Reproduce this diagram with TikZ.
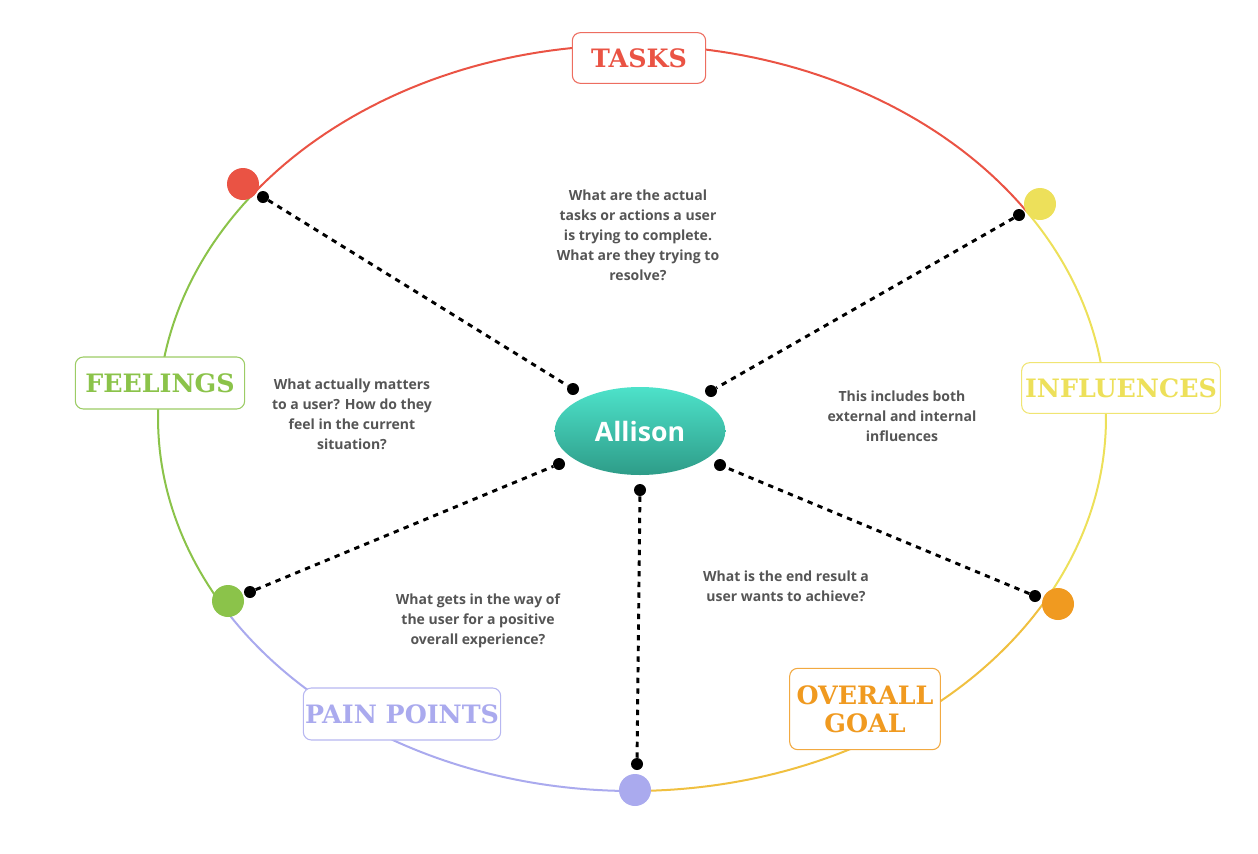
\documentclass[tikz,border=0pt]{standalone}
\usepackage{fontspec}
\usetikzlibrary{shapes.geometric}
\setmainfont{Open Sans}
\newfontfamily\slab{DejaVu Serif}
\begin{document}
\begin{tikzpicture}[x=0.75pt,y=-0.75pt,
  lbl/.style={draw=#1!85!white,fill=white,rounded corners=6pt,line width=0.8pt,text=#1,font=\slab\bfseries\fontsize{19}{21}\selectfont,align=center,inner sep=0pt},
  dot/.style={circle,fill=#1,minimum size=24pt,inner sep=0pt},
  end/.style={circle,fill=black,minimum size=9pt,inner sep=0pt},
  conn/.style={line width=2.2pt,dash pattern=on 4pt off 4pt},
  note/.style={text=txt,font=\bfseries\fontsize{10.5}{15}\selectfont,align=center}]
\definecolor{cred}{HTML}{EA5344}
\definecolor{cyel}{HTML}{EDE05A}
\definecolor{cgold}{HTML}{F0C040}
\definecolor{corg}{HTML}{F09A20}
\definecolor{cpur}{HTML}{AAAAEE}
\definecolor{cgrn}{HTML}{8BC34A}
\definecolor{txt}{HTML}{555555}
\definecolor{ttop}{HTML}{4DE2CA}
\definecolor{tbot}{HTML}{2E9C88}
\useasboundingbox (0,0) rectangle (1258,854);
\draw[cred,line width=1.5pt] plot[domain=33.7:142.7,samples=80] ({632+474*cos(\x)},{418-373*sin(\x)});
\draw[cyel,line width=1.5pt] plot[domain=-29:33.7,samples=60] ({632+474*cos(\x)},{418-373*sin(\x)});
\draw[cgold,line width=1.5pt] plot[domain=-90:-29,samples=60] ({632+474*cos(\x)},{418-373*sin(\x)});
\draw[cpur,line width=1.5pt] plot[domain=-150:-90,samples=60] ({632+474*cos(\x)},{418-373*sin(\x)});
\draw[cgrn,line width=1.5pt] plot[domain=142.7:210,samples=60] ({632+474*cos(\x)},{418-373*sin(\x)});
\node[lbl=cred,minimum width=100pt,minimum height=38pt] (tasks) at (639,58) {TASKS};
\node[lbl=cyel,minimum width=149pt,minimum height=38pt] (infl) at (1121,388) {INFLUENCES};
\node[lbl=corg,minimum width=113pt,minimum height=61pt] (goal) at (865,709) {OVERALL\\GOAL};
\node[lbl=cpur,minimum width=148pt,minimum height=39pt] (pain) at (402,714) {PAIN POINTS};
\node[lbl=cgrn,minimum width=127pt,minimum height=39pt] (feel) at (160,383) {FEELINGS};
\node[dot=cred] (dr) at (243,184) {};
\node[dot=cyel] (dy) at (1040,204) {};
\node[dot=corg] (do) at (1058,604) {};
\node[dot=cpur] (dp) at (635,790) {};
\node[dot=cgrn] (dg) at (228,601) {};
\node[ellipse,minimum width=128pt,minimum height=66pt,inner sep=0pt,top color=ttop,bottom color=tbot,text=white,font=\bfseries\fontsize{20}{24}\selectfont] (c) at (640,431) {Allison};
\node[end] (e1) at (263,197) {}; \node[end] (f1) at (573,389) {};
\node[end] (e2) at (1019,215) {}; \node[end] (f2) at (711,391) {};
\node[end] (e3) at (1035,596) {}; \node[end] (f3) at (720,465) {};
\node[end] (e4) at (637,764) {}; \node[end] (f4) at (640,490) {};
\node[end] (e5) at (250,592) {}; \node[end] (f5) at (559,464) {};
\draw[conn] (e1)--(f1); \draw[conn] (e2)--(f2); \draw[conn] (e3)--(f3);
\draw[conn] (e4)--(f4); \draw[conn] (e5)--(f5);
\node[note] (t1) at (638,235) {What are the actual\\tasks or actions a user\\is trying to complete.\\What are they trying to\\resolve?};
\node[note] (t2) at (352,414) {What actually matters\\to a user? How do they\\feel in the current\\situation?};
\node[note] (t3) at (902,416) {This includes both\\external and internal\\influences};
\node[note] (t4) at (786,586) {What is the end result a\\user wants to achieve?};
\node[note] (t5) at (478,621) {What gets in the way of\\the user for a positive\\overall experience?};
\end{tikzpicture}
\end{document}
